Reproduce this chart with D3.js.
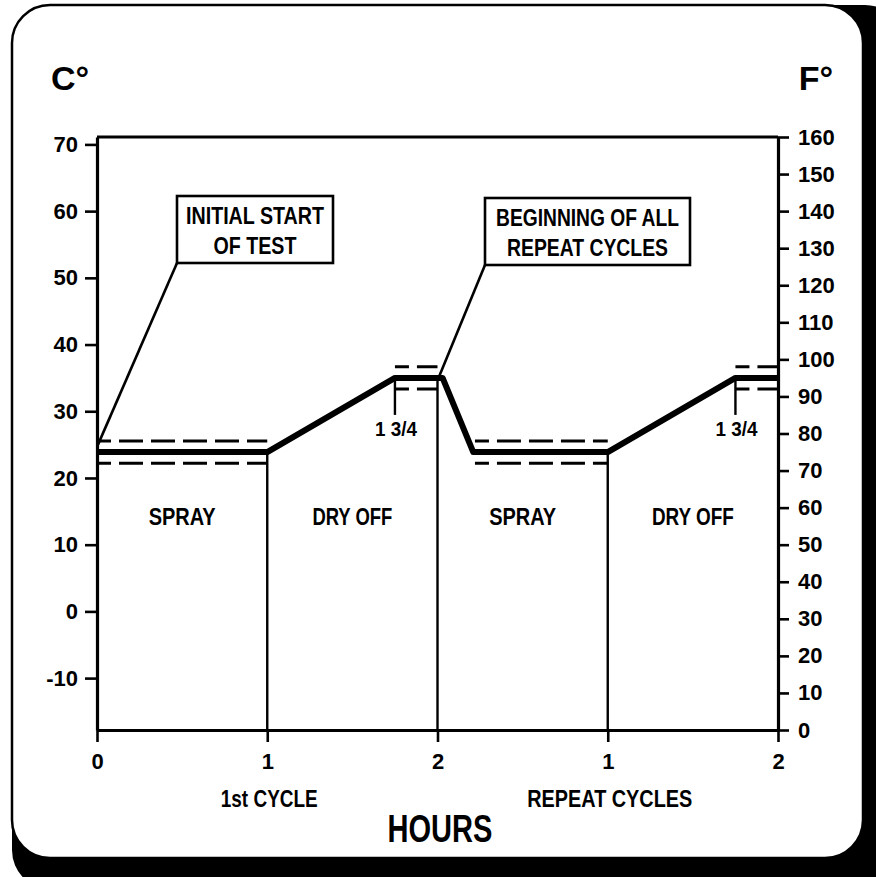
<!DOCTYPE html>
<html>
<head>
<meta charset="utf-8">
<script src="https://cdn.jsdelivr.net/npm/d3@7"></script>
<style>
  html, body { margin: 0; padding: 0; background: #ffffff; }
  svg { display: block; }
  text { font-family: "Liberation Sans Narrow", "Arial Narrow", "Liberation Sans", Arial, sans-serif; font-weight: bold; fill: #000; }
</style>
</head>
<body>
<svg id="chart" width="876" height="877"></svg>
<script>
// ---------------- data ----------------
const hourTicks = [0, 1, 2, 3, 4];
const hourTickLabels = ["0", "1", "2", "1", "2"];
const celsiusTicks = [-10, 0, 10, 20, 30, 40, 50, 60, 70];
const fahrenheitTicks = [0, 10, 20, 30, 40, 50, 60, 70, 80, 90, 100, 110, 120, 130, 140, 150, 160];

// temperature profile (hours, °F)
const profileHours = [0, 1, 1.75, 2.03, 2.21, 3, 3.75, 4];
const profileF     = [75, 75, 95, 95, 75, 75, 95, 95];

// tolerance bands (start hour, end hour, set point °F, ± °F)
const toleranceStart = [0, 1.75, 2.22, 3.75];
const toleranceEnd   = [1, 2, 3, 4];
const toleranceSet   = [75, 95, 75, 95];
const toleranceBand  = 3;

// phase labels
const phaseNames   = ["SPRAY", "DRY OFF", "SPRAY", "DRY OFF"];
const phaseCenters = [0.5, 1.5, 2.5, 3.5];

// cycle dividers (hour) reaching up to profile temp (°F)
const dividerHours = [1, 2, 3];
const dividerTopF  = [75, 95, 75];

// "1 3/4" markers
const markerHours = [1.75, 3.75];
const markerTopF  = [95, 95];
const markerLabel = "1 3/4";

// cycle group labels
const cycleNames   = ["1st CYCLE", "REPEAT CYCLES"];
const cycleCenters = [1, 3];

// annotation texts and their targets (hour, °F)
const annotationLines   = [["INITIAL START", "OF TEST"], ["BEGINNING OF ALL", "REPEAT CYCLES"]];
const annotationTargetH = [0, 2];
const annotationTargetF = [77, 95];

// ---------------- drawing ----------------
const svg = d3.select("#chart");

// frame with shadow
svg.append("rect").attr("x", 12).attr("y", 5).attr("width", 893).attr("height", 885)
  .attr("rx", 40).attr("fill", "#000");
svg.append("rect").attr("x", 12).attr("y", 5).attr("width", 851).attr("height", 853)
  .attr("rx", 38).attr("fill", "#fff").attr("stroke", "#000").attr("stroke-width", 2.5);

const x = d3.scaleLinear().domain([0, 4]).range([97, 778]);
const yF = d3.scaleLinear().domain([0, 160]).range([730, 137]);
const yC = d3.scaleLinear().domain([(0 - 32) * 5 / 9, (160 - 32) * 5 / 9]).range([730, 137]);

// axes
const gLeft = svg.append("g").attr("transform", `translate(${x(0)},0)`)
  .call(d3.axisLeft(yC).tickValues(celsiusTicks).tickSize(12).tickSizeOuter(0).tickPadding(7).tickFormat(d => d));
const gRight = svg.append("g").attr("transform", `translate(${x(4)},0)`)
  .call(d3.axisRight(yF).tickValues(fahrenheitTicks).tickSize(11).tickSizeOuter(0).tickPadding(9).tickFormat(d => d));
const gBottom = svg.append("g").attr("transform", `translate(0,${yF(0)})`)
  .call(d3.axisBottom(x).tickValues(hourTicks).tickSize(12).tickSizeOuter(0).tickPadding(11)
    .tickFormat((d, i) => hourTickLabels[i]));

[gLeft, gRight, gBottom].forEach(g => {
  g.select(".domain").attr("stroke", "#000").attr("stroke-width", 3.2);
  g.selectAll(".tick line").attr("stroke", "#000").attr("stroke-width", 2.6);
  g.selectAll(".tick text").attr("font-size", 22).style("font-family", null).attr("font-family", null);
});
svg.selectAll("g .tick text").attr("fill", "#000");

// top frame line
svg.append("line").attr("x1", x(0)).attr("x2", x(4)).attr("y1", yF(160)).attr("y2", yF(160))
  .attr("stroke", "#000").attr("stroke-width", 2.8);

// unit labels
svg.append("text").attr("x", 70).attr("y", 90).attr("text-anchor", "middle")
  .attr("font-size", 34).text("C°");
svg.append("text").attr("x", 816).attr("y", 90).attr("text-anchor", "middle")
  .attr("font-size", 34).text("F°");

// dividers
dividerHours.forEach((h, i) => {
  svg.append("line").attr("x1", x(h)).attr("x2", x(h)).attr("y1", yF(0)).attr("y2", yF(dividerTopF[i]))
    .attr("stroke", "#000").attr("stroke-width", 2.4);
});

// tolerance dashed lines
toleranceStart.forEach((s, i) => {
  [toleranceSet[i] + toleranceBand, toleranceSet[i] - toleranceBand].forEach(v => {
    svg.append("line").attr("x1", x(s)).attr("x2", x(toleranceEnd[i]))
      .attr("y1", yF(v)).attr("y2", yF(v))
      .attr("stroke", "#000").attr("stroke-width", 3).attr("stroke-dasharray", "24,8")
      .attr("stroke-dashoffset", 10);
  });
});

// 1 3/4 markers
markerHours.forEach((h, i) => {
  svg.append("line").attr("x1", x(h)).attr("x2", x(h)).attr("y1", yF(markerTopF[i])).attr("y2", yF(markerTopF[i]) + 37)
    .attr("stroke", "#000").attr("stroke-width", 2.4);
  svg.append("text").attr("x", x(h) + 1).attr("y", yF(markerTopF[i]) + 58)
    .attr("text-anchor", "middle").attr("font-size", 21)
    .attr("textLength", 42).attr("lengthAdjust", "spacingAndGlyphs").text(markerLabel);
});

// profile line
const profile = profileHours.map((h, i) => [h, profileF[i]]);
svg.append("path").datum(profile)
  .attr("d", d3.line().x(d => x(d[0])).y(d => yF(d[1])))
  .attr("fill", "none").attr("stroke", "#000").attr("stroke-width", 6)
  .attr("stroke-linejoin", "round").attr("stroke-linecap", "butt");

// phase labels
const phaseWidths = [67, 80, 67, 82];
phaseNames.forEach((n, i) => {
  svg.append("text").attr("x", x(phaseCenters[i])).attr("y", 525)
    .attr("text-anchor", "middle").attr("font-size", 23)
    .attr("textLength", phaseWidths[i]).attr("lengthAdjust", "spacingAndGlyphs").text(n);
});

// cycle labels
const cycleWidths = [97, 165];
cycleNames.forEach((n, i) => {
  svg.append("text").attr("x", x(cycleCenters[i]) + 2).attr("y", 807)
    .attr("text-anchor", "middle").attr("font-size", 24)
    .attr("textLength", cycleWidths[i]).attr("lengthAdjust", "spacingAndGlyphs").text(n);
});

// axis title
svg.append("text").attr("x", 440).attr("y", 842).attr("text-anchor", "middle")
  .attr("font-size", 38).attr("textLength", 105).attr("lengthAdjust", "spacingAndGlyphs").text("HOURS");

// annotations
const boxes = [
  { x: 177, y: 196, w: 156, h: 67, widths: [138, 83] },
  { x: 485, y: 198, w: 205, h: 67, widths: [183, 161] }
];
boxes.forEach((b, i) => {
  svg.append("line").attr("x1", b.x).attr("y1", b.y + b.h)
    .attr("x2", x(annotationTargetH[i]) + 1).attr("y2", yF(annotationTargetF[i]))
    .attr("stroke", "#000").attr("stroke-width", 2.6);
  svg.append("rect").attr("x", b.x).attr("y", b.y).attr("width", b.w).attr("height", b.h)
    .attr("fill", "#fff").attr("stroke", "#000").attr("stroke-width", 2.6);
  annotationLines[i].forEach((t, j) => {
    svg.append("text").attr("x", b.x + b.w / 2).attr("y", b.y + 28 + j * 30)
      .attr("text-anchor", "middle").attr("font-size", 23)
      .attr("textLength", b.widths[j]).attr("lengthAdjust", "spacingAndGlyphs").text(t);
  });
});
</script>
</body>
</html>
